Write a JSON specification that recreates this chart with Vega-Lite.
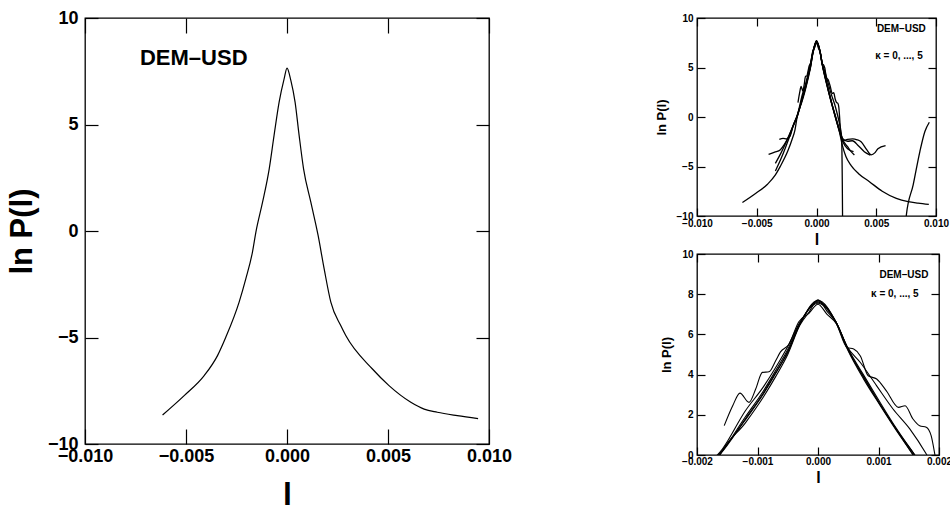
{
"$schema": "https://vega.github.io/schema/vega-lite/v6.json",
"background": "white",
"padding": {"left": 5, "top": 8, "right": 3, "bottom": 0},
"config": {
 "view": {"stroke": "#000", "strokeWidth": 1.3},
 "axis": {"grid": false, "domain": false, "labelFont": "Liberation Sans Narrow, Liberation Sans", "labelFontWeight": "bold", "titleFont": "Liberation Sans", "titleFontWeight": "bold", "tickColor": "#000", "labelColor": "#000", "titleColor": "#000", "labelFlush": false, "labelOverlap": false, "tickWidth": 1.2}
},
"datasets": {
 "main": [
  {"l": -0.00616, "lnp": -8.64}, {"l": -0.00509, "lnp": -7.73}, {"l": -0.0041, "lnp": -6.79}, {"l": -0.00344, "lnp": -5.85},
  {"l": -0.00303, "lnp": -4.99}, {"l": -0.00237, "lnp": -3.34}, {"l": -0.00204, "lnp": -2.25}, {"l": -0.00171, "lnp": -0.99},
  {"l": -0.00154, "lnp": -0.05}, {"l": -0.00121, "lnp": 1.35}, {"l": -0.00088, "lnp": 2.92}, {"l": -0.00064, "lnp": 4.49},
  {"l": -0.00039, "lnp": 6.05}, {"l": -0.00014, "lnp": 7.15}, {"l": 0.0, "lnp": 7.65}, {"l": 0.00019, "lnp": 7.07},
  {"l": 0.0004, "lnp": 6.05}, {"l": 0.0006, "lnp": 4.49}, {"l": 0.00082, "lnp": 2.92}, {"l": 0.00118, "lnp": 1.35},
  {"l": 0.00154, "lnp": -0.21}, {"l": 0.00184, "lnp": -1.78}, {"l": 0.00217, "lnp": -3.34}, {"l": 0.00266, "lnp": -4.44},
  {"l": 0.00291, "lnp": -4.91}, {"l": 0.00423, "lnp": -6.48}, {"l": 0.00505, "lnp": -7.26}, {"l": 0.00613, "lnp": -8.04},
  {"l": 0.00679, "lnp": -8.36}, {"l": 0.00744, "lnp": -8.51}, {"l": 0.00843, "lnp": -8.67}, {"l": 0.00946, "lnp": -8.81}
 ],
 "kappa": [
  {"k": "0", "l": -0.0062, "lnp": -8.64}, {"k": "0", "l": -0.0051, "lnp": -7.73}, {"k": "0", "l": -0.0041, "lnp": -6.79}, {"k": "0", "l": -0.00344, "lnp": -5.85},
  {"k": "0", "l": -0.00303, "lnp": -4.99}, {"k": "0", "l": -0.00237, "lnp": -3.34}, {"k": "0", "l": -0.00204, "lnp": -2.25}, {"k": "0", "l": -0.0018, "lnp": -1.3},
  {"k": "0", "l": -0.00162, "lnp": 0}, {"k": "0", "l": -0.0012, "lnp": 1.6}, {"k": "0", "l": -0.0009, "lnp": 2.9}, {"k": "0", "l": -0.0007, "lnp": 3.9},
  {"k": "0", "l": -0.0005, "lnp": 5.0}, {"k": "0", "l": -0.0003, "lnp": 6.45}, {"k": "0", "l": -0.00015, "lnp": 7.1}, {"k": "0", "l": 0, "lnp": 7.72},
  {"k": "0", "l": 0.00015, "lnp": 7.15}, {"k": "0", "l": 0.0003, "lnp": 6.6}, {"k": "0", "l": 0.00048, "lnp": 5.35}, {"k": "0", "l": 0.00075, "lnp": 3.9},
  {"k": "0", "l": 0.00102, "lnp": 2.55}, {"k": "0", "l": 0.0013, "lnp": 1.25}, {"k": "0", "l": 0.00157, "lnp": 0}, {"k": "0", "l": 0.0019, "lnp": -1.4},
  {"k": "0", "l": 0.00217, "lnp": -2.9}, {"k": "0", "l": 0.00246, "lnp": -4.0}, {"k": "0", "l": 0.0029, "lnp": -4.9}, {"k": "0", "l": 0.0035, "lnp": -5.7},
  {"k": "0", "l": 0.00443, "lnp": -6.53}, {"k": "0", "l": 0.0055, "lnp": -7.5}, {"k": "0", "l": 0.00668, "lnp": -8.22}, {"k": "0", "l": 0.00767, "lnp": -8.55},
  {"k": "0", "l": 0.0085, "lnp": -8.7}, {"k": "0", "l": 0.0094, "lnp": -8.83},

  {"k": "1", "l": -0.00401, "lnp": -3.77}, {"k": "1", "l": -0.0035, "lnp": -3.55}, {"k": "1", "l": -0.00302, "lnp": -3.3}, {"k": "1", "l": -0.0027, "lnp": -2.8},
  {"k": "1", "l": -0.0023, "lnp": -1.9}, {"k": "1", "l": -0.002, "lnp": -1.0}, {"k": "1", "l": -0.00165, "lnp": 0}, {"k": "1", "l": -0.0012, "lnp": 1.75},
  {"k": "1", "l": -0.0009, "lnp": 3.05}, {"k": "1", "l": -0.0007, "lnp": 4.05}, {"k": "1", "l": -0.0005, "lnp": 5.15}, {"k": "1", "l": -0.0003, "lnp": 6.5},
  {"k": "1", "l": 0, "lnp": 7.65}, {"k": "1", "l": 0.0003, "lnp": 6.6}, {"k": "1", "l": 0.00048, "lnp": 5.4}, {"k": "1", "l": 0.00075, "lnp": 4.0},
  {"k": "1", "l": 0.00102, "lnp": 2.65}, {"k": "1", "l": 0.0013, "lnp": 1.3}, {"k": "1", "l": 0.0016, "lnp": 0}, {"k": "1", "l": 0.0019, "lnp": -1.2},
  {"k": "1", "l": 0.0022, "lnp": -2.3}, {"k": "1", "l": 0.0026, "lnp": -3.0}, {"k": "1", "l": 0.0029, "lnp": -3.5}, {"k": "1", "l": 0.00317, "lnp": -3.83},

  {"k": "2", "l": -0.00311, "lnp": -2.25}, {"k": "2", "l": -0.0028, "lnp": -2.15}, {"k": "2", "l": -0.0025, "lnp": -2.2}, {"k": "2", "l": -0.0022, "lnp": -1.9},
  {"k": "2", "l": -0.002, "lnp": -1.1}, {"k": "2", "l": -0.00163, "lnp": 0}, {"k": "2", "l": -0.0012, "lnp": 1.9}, {"k": "2", "l": -0.0009, "lnp": 3.2},
  {"k": "2", "l": -0.0007, "lnp": 4.2}, {"k": "2", "l": -0.0005, "lnp": 5.25}, {"k": "2", "l": -0.0003, "lnp": 6.55}, {"k": "2", "l": 0, "lnp": 7.6},
  {"k": "2", "l": 0.0003, "lnp": 6.6}, {"k": "2", "l": 0.00048, "lnp": 5.4}, {"k": "2", "l": 0.0007, "lnp": 4.6}, {"k": "2", "l": 0.00097, "lnp": 3.44},
  {"k": "2", "l": 0.00124, "lnp": 2.29}, {"k": "2", "l": 0.00152, "lnp": 1.29}, {"k": "2", "l": 0.00179, "lnp": 0.05}, {"k": "2", "l": 0.002, "lnp": -1.1},
  {"k": "2", "l": 0.00219, "lnp": -2.4}, {"k": "2", "l": 0.0026, "lnp": -2.25}, {"k": "2", "l": 0.00303, "lnp": -2.21}, {"k": "2", "l": 0.0034, "lnp": -2.3},
  {"k": "2", "l": 0.00373, "lnp": -2.5}, {"k": "2", "l": 0.0042, "lnp": -3.3}, {"k": "2", "l": 0.00457, "lnp": -3.83}, {"k": "2", "l": 0.0049, "lnp": -3.6},
  {"k": "2", "l": 0.00514, "lnp": -3.2}, {"k": "2", "l": 0.00578, "lnp": -2.88},

  {"k": "3", "l": -0.00344, "lnp": -4.68}, {"k": "3", "l": -0.003, "lnp": -3.7}, {"k": "3", "l": -0.0026, "lnp": -2.7}, {"k": "3", "l": -0.0022, "lnp": -1.6},
  {"k": "3", "l": -0.0019, "lnp": -0.7}, {"k": "3", "l": -0.00158, "lnp": 0.3}, {"k": "3", "l": -0.0012, "lnp": 2.2}, {"k": "3", "l": -0.0009, "lnp": 3.4},
  {"k": "3", "l": -0.0007, "lnp": 4.35}, {"k": "3", "l": -0.0005, "lnp": 5.4}, {"k": "3", "l": -0.0003, "lnp": 6.6}, {"k": "3", "l": 0, "lnp": 7.55},
  {"k": "3", "l": 0.0003, "lnp": 6.55}, {"k": "3", "l": 0.00048, "lnp": 5.3}, {"k": "3", "l": 0.00075, "lnp": 3.8}, {"k": "3", "l": 0.00102, "lnp": 2.5},
  {"k": "3", "l": 0.0013, "lnp": 1.2}, {"k": "3", "l": 0.00158, "lnp": 0}, {"k": "3", "l": 0.0019, "lnp": -1.3}, {"k": "3", "l": 0.0022, "lnp": -2.2},
  {"k": "3", "l": 0.0026, "lnp": -2.45}, {"k": "3", "l": 0.003, "lnp": -2.4}, {"k": "3", "l": 0.0035, "lnp": -2.9}, {"k": "3", "l": 0.004, "lnp": -3.5},
  {"k": "3", "l": 0.0045, "lnp": -3.85},

  {"k": "4", "l": -0.00344, "lnp": -5.45}, {"k": "4", "l": -0.003, "lnp": -4.3}, {"k": "4", "l": -0.0026, "lnp": -3.1}, {"k": "4", "l": -0.0022, "lnp": -1.8},
  {"k": "4", "l": -0.0019, "lnp": -0.7}, {"k": "4", "l": -0.00163, "lnp": 0}, {"k": "4", "l": -0.0012, "lnp": 1.8}, {"k": "4", "l": -0.0009, "lnp": 3.1},
  {"k": "4", "l": -0.0007, "lnp": 4.1}, {"k": "4", "l": -0.0005, "lnp": 5.1}, {"k": "4", "l": -0.0003, "lnp": 6.5}, {"k": "4", "l": 0, "lnp": 7.7},
  {"k": "4", "l": 0.0003, "lnp": 6.6}, {"k": "4", "l": 0.00048, "lnp": 5.35}, {"k": "4", "l": 0.00075, "lnp": 3.9}, {"k": "4", "l": 0.00102, "lnp": 2.55},
  {"k": "4", "l": 0.0013, "lnp": 1.25}, {"k": "4", "l": 0.0016, "lnp": 0}, {"k": "4", "l": 0.0019, "lnp": -1.4}, {"k": "4", "l": 0.0022, "lnp": -2.5},
  {"k": "4", "l": 0.0026, "lnp": -3.2}, {"k": "4", "l": 0.0031, "lnp": -3.5},

  {"k": "5", "l": -0.00155, "lnp": 1.46}, {"k": "5", "l": -0.00141, "lnp": 2.45}, {"k": "5", "l": -0.00129, "lnp": 3.08}, {"k": "5", "l": -0.00114, "lnp": 2.62},
  {"k": "5", "l": -0.00103, "lnp": 3.28}, {"k": "5", "l": -0.00092, "lnp": 4.11}, {"k": "5", "l": -0.00081, "lnp": 4.14}, {"k": "5", "l": -0.0007, "lnp": 4.69},
  {"k": "5", "l": -0.00062, "lnp": 5.13}, {"k": "5", "l": -0.00048, "lnp": 5.51}, {"k": "5", "l": -0.00032, "lnp": 6.62}, {"k": "5", "l": -0.00015, "lnp": 7.05},
  {"k": "5", "l": 0, "lnp": 7.5}, {"k": "5", "l": 0.00015, "lnp": 7.0}, {"k": "5", "l": 0.0003, "lnp": 6.55}, {"k": "5", "l": 0.00048, "lnp": 5.35},
  {"k": "5", "l": 0.00059, "lnp": 5.27}, {"k": "5", "l": 0.0007, "lnp": 4.93}, {"k": "5", "l": 0.00083, "lnp": 3.94}, {"k": "5", "l": 0.00097, "lnp": 3.78},
  {"k": "5", "l": 0.00113, "lnp": 3.19}, {"k": "5", "l": 0.00133, "lnp": 2.37}, {"k": "5", "l": 0.00144, "lnp": 2.45}, {"k": "5", "l": 0.00157, "lnp": 1.79},
  {"k": "5", "l": 0.00168, "lnp": 1.46}, {"k": "5", "l": 0.00179, "lnp": 1.38}, {"k": "5", "l": 0.00187, "lnp": 0.96}, {"k": "5", "l": 0.00193, "lnp": 0.05},
  {"k": "5", "l": 0.002, "lnp": -1.3}, {"k": "5", "l": 0.0021, "lnp": -2.2}, {"k": "5", "l": 0.00218, "lnp": -10}, {"k": "5", "l": 0.0022, "lnp": -14},
  {"k": "5", "l": 0.0073, "lnp": -13}, {"k": "5", "l": 0.00752, "lnp": -9.9}, {"k": "5", "l": 0.00809, "lnp": -6.86}, {"k": "5", "l": 0.00865, "lnp": -3.49},
  {"k": "5", "l": 0.00907, "lnp": -1.47}, {"k": "5", "l": 0.00944, "lnp": -0.53}
 ]
},
"spacing": 141,
"hconcat": [
 {
  "width": 404, "height": 426,
  "layer": [
   {"data": {"name": "main"}, "mark": {"type": "line", "color": "#000", "strokeWidth": 1.2, "interpolate": "monotone"},
    "encoding": {
     "x": {"field": "l", "type": "quantitative", "scale": {"domain": [-0.01, 0.01], "nice": false},
       "axis": {"orient": "bottom", "values": [-0.01, -0.005, 0, 0.005, 0.01], "format": ".3f", "tickSize": -15, "labelPadding": 18, "labelFontSize": 18, "title": "l", "titleFontSize": 32, "titlePadding": 14}},
     "y": {"field": "lnp", "type": "quantitative", "scale": {"domain": [-10, 10], "nice": false, "zero": false},
       "axis": {"orient": "left", "values": [-10, -5, 0, 5, 10], "format": "d", "tickSize": -13, "labelPadding": 20, "labelFontSize": 18, "title": "ln P(l)", "titleFontSize": 31, "titlePadding": 9}}
    }},
   {"data": {"name": "main"}, "mark": {"type": "line", "opacity": 0, "clip": true},
    "encoding": {
     "x": {"field": "l", "type": "quantitative", "axis": {"orient": "top", "values": [-0.01, -0.005, 0, 0.005, 0.01], "tickSize": -15, "labels": false, "title": null}},
     "y": {"field": "lnp", "type": "quantitative", "axis": {"orient": "right", "values": [-10, -5, 0, 5, 10], "tickSize": -13, "labels": false, "title": null}}
    }},
   {"data": {"values": [{}]}, "mark": {"type": "text", "text": "DEM–USD", "align": "left", "baseline": "middle", "font": "Liberation Sans", "fontWeight": "bold", "fontSize": 22, "color": "#000"},
    "encoding": {"x": {"datum": -0.00728, "type": "quantitative", "axis": null}, "y": {"datum": 8.1, "type": "quantitative", "axis": null}}}
  ],
  "resolve": {"axis": {"x": "independent", "y": "independent"}}
 },
 {
  "vconcat": [
   {
    "width": 239, "height": 198,
    "layer": [
     {"data": {"name": "kappa"}, "mark": {"type": "line", "color": "#000", "strokeWidth": 1.3, "clip": true, "interpolate": "monotone"},
      "encoding": {
       "x": {"field": "l", "type": "quantitative", "scale": {"domain": [-0.01, 0.01], "nice": false},
         "axis": {"orient": "bottom", "values": [-0.01, -0.005, 0, 0.005, 0.01], "format": ".3f", "tickSize": -8, "labelPadding": 10, "labelFontSize": 10, "title": "l", "titleFontSize": 16, "titlePadding": 3}},
       "y": {"field": "lnp", "type": "quantitative", "scale": {"domain": [-10, 10], "nice": false, "zero": false},
         "axis": {"orient": "left", "values": [-10, -5, 0, 5, 10], "format": "d", "tickSize": -8, "labelPadding": 12, "labelFontSize": 10, "title": "ln P(l)", "titleFontSize": 13, "titlePadding": 8}},
       "detail": {"field": "k", "type": "nominal"}
      }},
     {"data": {"name": "kappa"}, "mark": {"type": "line", "opacity": 0, "clip": true},
      "encoding": {
       "x": {"field": "l", "type": "quantitative", "axis": {"orient": "top", "values": [-0.01, -0.005, 0, 0.005, 0.01], "tickSize": -8, "labels": false, "title": null}},
       "y": {"field": "lnp", "type": "quantitative", "axis": {"orient": "right", "values": [-10, -5, 0, 5, 10], "tickSize": -8, "labels": false, "title": null}},
       "detail": {"field": "k", "type": "nominal"}
      }},
     {"data": {"values": [{}]}, "mark": {"type": "text", "text": "DEM–USD", "align": "center", "baseline": "middle", "font": "Liberation Sans", "fontWeight": "bold", "fontSize": 10, "color": "#000"},
      "encoding": {"x": {"datum": 0.0071, "type": "quantitative", "axis": null}, "y": {"datum": 8.86, "type": "quantitative", "axis": null}}},
     {"data": {"values": [{}]}, "mark": {"type": "text", "text": "κ = 0, ..., 5", "align": "center", "baseline": "middle", "font": "Liberation Sans Narrow, Liberation Sans", "fontWeight": "bold", "fontSize": 10, "color": "#000"},
      "encoding": {"x": {"datum": 0.0069, "type": "quantitative", "axis": null}, "y": {"datum": 6.12, "type": "quantitative", "axis": null}}}
    ],
    "resolve": {"axis": {"x": "independent", "y": "independent"}}
   },
   {
    "width": 242, "height": 201,
    "layer": [
     {"data": {"name": "kappa"}, "mark": {"type": "line", "color": "#000", "strokeWidth": 1.1, "clip": true, "interpolate": "monotone"},
      "encoding": {
       "x": {"field": "l", "type": "quantitative", "scale": {"domain": [-0.002, 0.002], "nice": false},
         "axis": {"orient": "bottom", "values": [-0.002, -0.001, 0, 0.001, 0.002], "format": ".3f", "tickSize": -8, "labelPadding": 9, "labelFontSize": 10, "title": "l", "titleFontSize": 16, "titlePadding": 3}},
       "y": {"field": "lnp", "type": "quantitative", "scale": {"domain": [0, 10], "nice": false, "zero": false},
         "axis": {"orient": "left", "values": [0, 2, 4, 6, 8, 10], "format": "d", "tickSize": -8, "labelPadding": 12, "labelFontSize": 10, "title": "ln P(l)", "titleFontSize": 13, "titlePadding": 8}},
       "detail": {"field": "k", "type": "nominal"}
      }},
     {"data": {"name": "kappa"}, "mark": {"type": "line", "opacity": 0, "clip": true},
      "encoding": {
       "x": {"field": "l", "type": "quantitative", "axis": {"orient": "top", "values": [-0.002, -0.001, 0, 0.001, 0.002], "tickSize": -8, "labels": false, "title": null}},
       "y": {"field": "lnp", "type": "quantitative", "axis": {"orient": "right", "values": [0, 2, 4, 6, 8, 10], "tickSize": -8, "labels": false, "title": null}},
       "detail": {"field": "k", "type": "nominal"}
      }},
     {"data": {"values": [{}]}, "mark": {"type": "text", "text": "DEM–USD", "align": "center", "baseline": "middle", "font": "Liberation Sans", "fontWeight": "bold", "fontSize": 10, "color": "#000"},
      "encoding": {"x": {"datum": 0.00142, "type": "quantitative", "axis": null}, "y": {"datum": 8.94, "type": "quantitative", "axis": null}}},
     {"data": {"values": [{}]}, "mark": {"type": "text", "text": "κ = 0, ..., 5", "align": "center", "baseline": "middle", "font": "Liberation Sans Narrow, Liberation Sans", "fontWeight": "bold", "fontSize": 10, "color": "#000"},
      "encoding": {"x": {"datum": 0.00127, "type": "quantitative", "axis": null}, "y": {"datum": 8.0, "type": "quantitative", "axis": null}}}
    ],
    "resolve": {"axis": {"x": "independent", "y": "independent"}}
   }
  ],
  "spacing": 0,
  "align": "none"
 }
]
}
